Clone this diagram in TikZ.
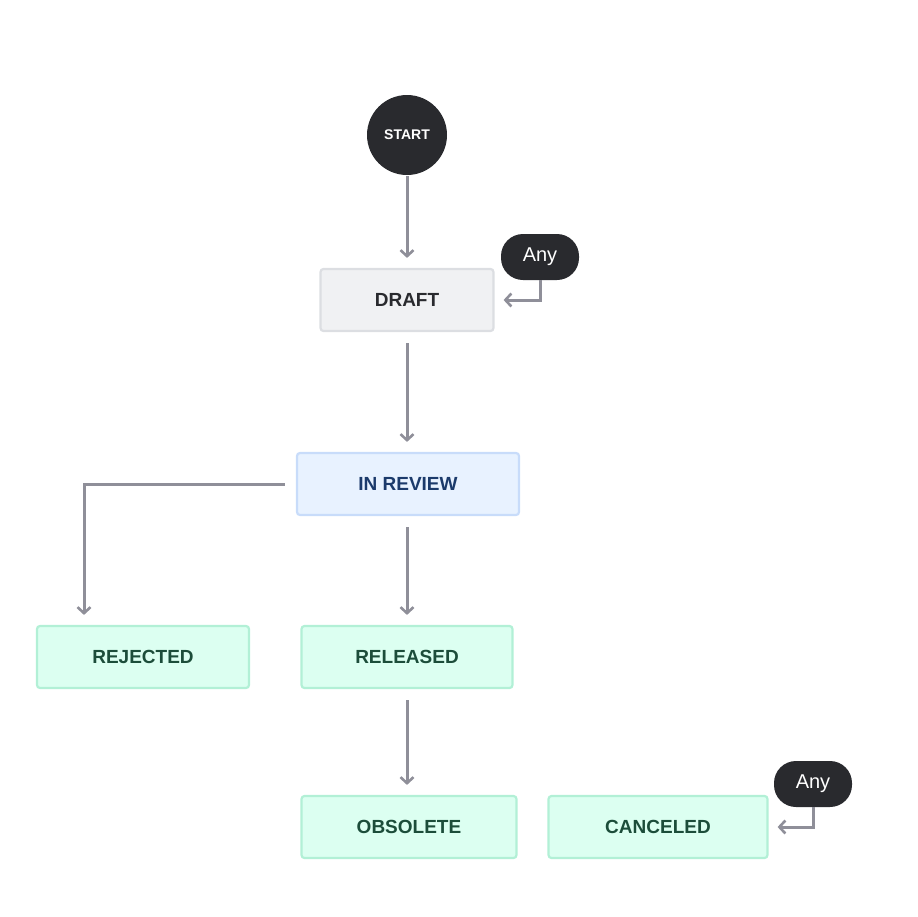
\documentclass[tikz,border=0pt]{standalone}
\usepackage{fontspec}
\setmainfont{Liberation Sans}
\usetikzlibrary{arrows.meta}
\definecolor{edgegray}{HTML}{8F8F99}
\definecolor{darkfill}{HTML}{292A2E}
\tikzset{
  status/.style={rectangle,rounded corners=3pt,line width=2.2pt,minimum height=62pt,font=\bfseries\fontsize{19}{22}\selectfont},
  grey/.style={status,fill={rgb,255:red,240;green,241;blue,243},draw={rgb,255:red,220;green,222;blue,226},text=darkfill},
  blue/.style={status,fill={rgb,255:red,232;green,242;blue,255},draw={rgb,255:red,200;green,220;blue,250},text={rgb,255:red,27;green,58;blue,107}},
  green/.style={status,fill={rgb,255:red,220;green,255;blue,241},draw={rgb,255:red,178;green,240;blue,214},text={rgb,255:red,28;green,77;blue,58}},
  any/.style={rectangle,rounded corners=22pt,fill=darkfill,text=white,minimum width=78pt,minimum height=46pt,font=\fontsize{20}{24}\selectfont},
  flow/.style={draw=edgegray,line width=3pt,-{Straight Barb[length=6pt,width=13pt,line width=2.6pt]}}
}
\begin{document}
\begin{tikzpicture}[x=1pt,y=-1pt]
\useasboundingbox (0,0) rectangle (918,916);
\node[circle,fill=darkfill,text=white,minimum size=80pt,inner sep=0pt,font=\bfseries\fontsize{14}{16}\selectfont] (start) at (407,135) {START};
\node[grey,minimum width=173pt] (draft) at (407,300) {DRAFT};
\node[blue,minimum width=222pt] (review) at (408,484) {IN REVIEW};
\node[green,minimum width=212pt] (rejected) at (143,657) {REJECTED};
\node[green,minimum width=211pt] (released) at (407,657) {RELEASED};
\node[green,minimum width=215pt] (obsolete) at (409,827) {OBSOLETE};
\node[green,minimum width=219pt] (canceled) at (658,827) {CANCELED};
\node[any] (any1) at (540,257) {Any};
\node[any] (any2) at (813,784) {Any};
\draw[flow,shorten <=1pt,shorten >=10pt] (start) -- (draft);
\draw[flow,shorten <=11pt,shorten >=10pt] (draft) -- (review.north -| draft);
\draw[flow,shorten <=11pt,shorten >=10pt] (review.west) -- ++(-202,0) -| (rejected.north -| 84,0);
\draw[flow,shorten <=11pt,shorten >=10pt] (review.south -| released) -- (released);
\draw[flow,shorten <=11pt,shorten >=10pt] (released) -- (released.south |- obsolete.north);
\draw[flow,shorten >=9pt] (any1.south) |- (draft.east);
\draw[flow,shorten >=9pt] (any2.south) |- (canceled.east);
\end{tikzpicture}
\end{document}
